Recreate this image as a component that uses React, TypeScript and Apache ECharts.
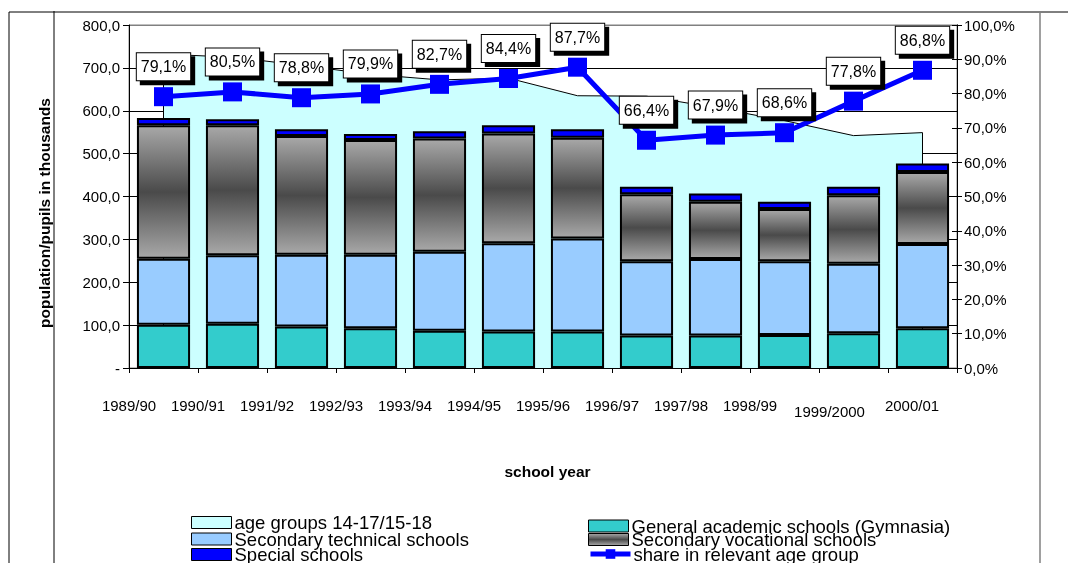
import React, { useEffect, useRef } from "react";
import * as echarts from "echarts";

const categories = ["1989/90", "1990/91", "1991/92", "1992/93", "1993/94", "1994/95", "1995/96", "1996/97", "1997/98", "1998/99", "1999/2000", "2000/01"];
const ageGroups = [732, 725, 706, 685, 672, 676, 635, 634, 607, 577, 542, 549];
const general = [101, 103, 97, 93, 87, 85, 85, 76, 76, 77, 81, 93];
const technical = [154, 160, 167, 171, 184, 206, 217, 173, 178, 172, 162, 196];
const vocational = [311, 303, 277, 268, 264, 256, 235, 156, 134, 122, 160, 168];
const special = [17, 14, 16, 14, 17, 19, 20, 18, 19, 17, 20, 20];
const share = [79.1, 80.5, 78.8, 79.9, 82.7, 84.4, 87.7, 66.4, 67.9, 68.6, 77.8, 86.8];

const seriesNames = [
  "age groups 14-17/15-18",
  "General academic schools (Gymnasia)",
  "Secondary technical schools",
  "Secondary vocational schools",
  "Special schools",
  "share in relevant age group",
];

const leftTicks = { min: 0, max: 800, interval: 100 };
const rightTicks = { min: 0, max: 100, interval: 10 };

const FONT = "'Liberation Sans', Arial, sans-serif";
const fmt = (v: number) => v.toFixed(1).replace(".", ",");

export default function App() {
  const ref = useRef<HTMLDivElement>(null);
  useEffect(() => {
    if (!ref.current) return;
    const chart = echarts.init(ref.current, null, { renderer: "svg" });
    const barBorder = { borderColor: "#000", borderWidth: 2 };
    const vocGrad = new echarts.graphic.LinearGradient(0, 0, 0, 1, [
      { offset: 0, color: "#A8A8A8" },
      { offset: 0.5, color: "#4A4A4A" },
      { offset: 1, color: "#A8A8A8" },
    ]);
    const last = categories.length - 1;

    // legend placement: [series index, left, top, text shift]
    const legendSpots: [number, number, number, number][] = [
      [0, 191, 513, 5],
      [2, 191, 529.5, -5],
      [4, 191, 545, 0],
      [1, 588, 513, 14],
      [3, 588, 530, -3],
      [5, 588, 544.5, 0],
    ];
    const legends = legendSpots.map(([si, left, top, shift]) => ({
      left,
      top,
      itemWidth: 40,
      itemHeight: 12,
      padding: 0,
      textStyle: {
        fontSize: 18.5,
        lineHeight: 12,
        color: "#000",
        padding: shift >= 0 ? [shift, 0, 0, -2] : [0, 0, -shift, -2],
      },
      itemStyle: { borderColor: "#000", borderWidth: 1 },
      lineStyle: { width: 5 },
      data: [
        si === 0
          ? { name: seriesNames[0], icon: "rect", itemStyle: { color: "#CCFFFF", borderColor: "#000", borderWidth: 1 } }
          : si === 5
          ? { name: seriesNames[5], itemStyle: { borderWidth: 0 } }
          : { name: seriesNames[si], icon: "rect" },
      ],
    }));

    chart.setOption({
      animation: false,
      textStyle: { fontFamily: FONT },
      grid: { left: 129, right: 111, top: 25, bottom: 195, show: true, borderColor: "#808080", borderWidth: 1, backgroundColor: "transparent" },
      legend: legends,
      xAxis: {
        type: "category",
        data: categories,
        boundaryGap: true,
        axisLine: { lineStyle: { color: "#000", width: 1 } },
        axisTick: { show: true, length: 5, interval: 0, lineStyle: { color: "#000" } },
        axisLabel: {
          interval: 0,
          margin: 30,
          fontSize: 15,
          color: "#000",
          formatter: (v: string, i: number) => (i === 10 ? `{c|${v}}` : i === 11 ? `{d|${v}}` : `{a|${v}}`),
          rich: {
            a: { fontSize: 15, fontFamily: FONT, color: "#000", padding: [0, 69, 0, 0] },
            c: { fontSize: 15, fontFamily: FONT, color: "#000", padding: [6, 48, 0, 0] },
            d: { fontSize: 15, fontFamily: FONT, color: "#000", padding: [0, 21, 0, 0] },
          },
        },
        name: "school year",
        nameLocation: "middle",
        nameGap: 95,
        nameTextStyle: { fontSize: 15.5, fontWeight: "bold", color: "#000", padding: [0, 0, 0, 9] },
      },
      yAxis: [
        {
          type: "value",
          position: "left",
          ...leftTicks,
          axisLine: { show: true, lineStyle: { color: "#000" } },
          axisTick: { show: true, length: 6, lineStyle: { color: "#000" } },
          axisLabel: { fontSize: 15, color: "#000", margin: 9, formatter: (v: number) => (v === 0 ? "-" : fmt(v)) },
          splitLine: { show: true, lineStyle: { color: ["#000", "#000", "#000", "#000", "#000", "#000", "#000", "#000", "#808080"], width: 1 } },
        },
        {
          type: "value",
          position: "right",
          ...rightTicks,
          axisLine: { show: true, lineStyle: { color: "#000" } },
          axisTick: { show: true, length: 5, lineStyle: { color: "#000" } },
          axisLabel: { fontSize: 15, color: "#000", margin: 7, formatter: (v: number) => fmt(v) + "%" },
          splitLine: { show: false },
        },
        {
          type: "value",
          position: "right",
          ...rightTicks,
          axisLine: { show: true, lineStyle: { color: "#000" } },
          axisTick: { show: true, inside: true, length: 5, lineStyle: { color: "#000" } },
          axisLabel: { show: false },
          splitLine: { show: false },
        },
      ],
      graphic: [
        { type: "line", shape: { x1: 9, y1: 12, x2: 1068, y2: 12 }, style: { stroke: "#000", lineWidth: 1 }, silent: true },
        { type: "line", shape: { x1: 9, y1: 12, x2: 9, y2: 563 }, style: { stroke: "#000", lineWidth: 1 }, silent: true },
        { type: "line", shape: { x1: 54, y1: 11, x2: 54, y2: 563 }, style: { stroke: "#000", lineWidth: 1 }, silent: true },
        { type: "line", shape: { x1: 1040, y1: 12, x2: 1040, y2: 563 }, style: { stroke: "#808080", lineWidth: 1.5 }, silent: true },
        {
          type: "text", x: 44, y: 213, rotation: Math.PI / 2,
          style: { text: "population/pupils in thousands", font: `bold 15.5px ${FONT}`, fill: "#000", textAlign: "center", textVerticalAlign: "middle" },
          silent: true,
        },
      ],
      series: [
        {
          name: seriesNames[0],
          type: "line",
          data: ageGroups,
          z: 0,
          symbol: "none",
          lineStyle: { color: "#000", width: 1 },
          itemStyle: { color: "#CCFFFF" },
          areaStyle: { color: "#CCFFFF", opacity: 1 },
          markLine: {
            silent: true,
            z: 1,
            symbol: ["none", "none"],
            label: { show: false },
            lineStyle: { color: "#000", width: 1, type: "solid" },
            data: [
              [{ coord: [categories[0], 0] }, { coord: [categories[0], ageGroups[0]] }],
              [{ coord: [categories[last], 0] }, { coord: [categories[last], ageGroups[last]] }],
            ],
          },
        },
        { name: seriesNames[1], type: "bar", stack: "s", data: general, barCategoryGap: "23%", itemStyle: { color: "#33CCCC", ...barBorder } },
        { name: seriesNames[2], type: "bar", stack: "s", data: technical, barCategoryGap: "23%", itemStyle: { color: "#99CCFF", ...barBorder } },
        { name: seriesNames[3], type: "bar", stack: "s", data: vocational, barCategoryGap: "23%", itemStyle: { color: vocGrad, ...barBorder } },
        { name: seriesNames[4], type: "bar", stack: "s", data: special, barCategoryGap: "23%", itemStyle: { color: "#0000FF", ...barBorder } },
        {
          name: seriesNames[5],
          type: "line",
          yAxisIndex: 1,
          data: share,
          z: 5,
          symbol: "rect",
          symbolSize: 19,
          lineStyle: { color: "#0000FF", width: 5 },
          itemStyle: { color: "#0000FF" },
          label: {
            show: true,
            position: "top",
            distance: 7,
            formatter: (p: any) => fmt(p.value) + "%",
            fontSize: 16,
            lineHeight: 19,
            color: "#000",
            backgroundColor: "#fff",
            borderColor: "#000",
            borderWidth: 1,
            padding: [4, 4, 4, 4],
            shadowColor: "#000",
            shadowBlur: 0,
            shadowOffsetX: 4,
            shadowOffsetY: 4,
          },
        },
      ],
    });
    return () => chart.dispose();
  }, []);
  return <div ref={ref} style={{ position: "fixed", left: 0, top: 0, width: 1068, height: 563 }} />;
}
